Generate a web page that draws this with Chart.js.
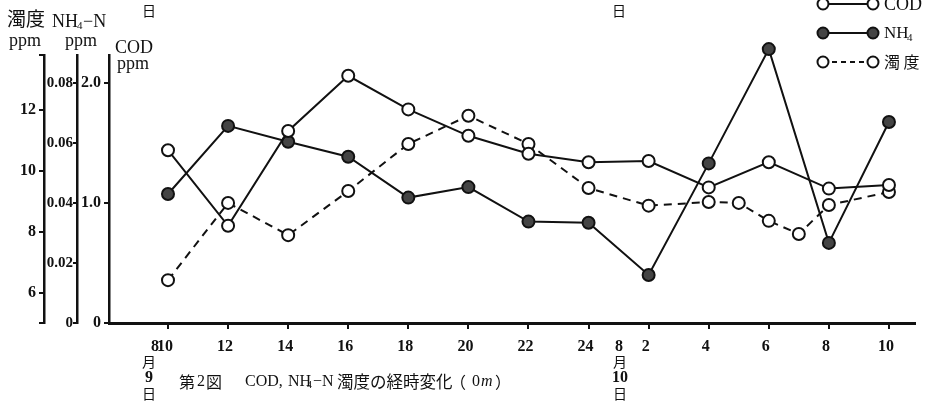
<!DOCTYPE html>
<html>
<head>
<meta charset="utf-8">
<script src="https://cdn.jsdelivr.net/npm/chart.js@4.4.1/dist/chart.umd.min.js"></script>
<style>
  html, body { margin: 0; padding: 0; background: #fff; }
  #wrap { width: 937px; height: 409px; }
</style>
</head>
<body>
<div id="wrap"><canvas id="chart" width="937" height="409"></canvas></div>
<script>
// hours counted from 10:00 on 9 Aug
var hours = [0, 2, 4, 6, 8, 10, 12, 14, 16, 18, 20, 22, 24];
var hourLabels = ['10', '12', '14', '16', '18', '20', '22', '24', '2', '4', '6', '8', '10'];

var codValues = [1.44, 0.81, 1.60, 2.06, 1.78, 1.56, 1.41, 1.34, 1.35, 1.13, 1.34, 1.12, 1.15];
var nh4Values = [0.043, 0.0657, 0.0604, 0.0554, 0.0418, 0.0453, 0.0338, 0.0334, 0.016, 0.0532, 0.0913, 0.0267, 0.067];

// turbidity was also read at 5, 6 and 7 o'clock
var turbHours = [0, 2, 4, 6, 8, 10, 12, 14, 16, 18, 19, 20, 21, 22, 24];
var turbValues = [6.41, 8.95, 7.89, 9.34, 10.89, 11.82, 10.89, 9.44, 8.86, 8.98, 8.95, 8.36, 7.93, 8.88, 9.31];

var turbTicks = [6, 8, 10, 12];
var nh4Ticks = [0, 0.02, 0.04, 0.06, 0.08];
var nh4TickLabels = ['0', '0.02', '0.04', '0.06', '0.08'];
var codTicks = [0, 1, 2];
var codTickLabels = ['0', '1.0', '2.0'];

var ink = '#111';
var serif = "'Liberation Serif', 'Noto Sans CJK JP', serif";
var cjk = "'Noto Sans CJK JP', sans-serif";

function toPoints(xs, ys) {
    var pts = [];
    for (var i = 0; i < xs.length; i++) {
        pts.push({ x: xs[i], y: ys[i] });
    }
    return pts;
}

function setTicks(list) {
    return function(scale) {
        scale.ticks = list.map(function(v) { return { value: v }; });
    };
}

// Axis titles, dates, caption and the hand drawn legend
var paperText = {
    id: 'paperText',
    afterDraw: function(chart) {
        var ctx = chart.ctx;
        ctx.save();
        ctx.fillStyle = ink;

        function txt(s, x, y, size, family, align, base, style) {
            ctx.font = (style || '') + ' ' + size + 'px ' + family;
            ctx.textAlign = align || 'left';
            ctx.textBaseline = base || 'middle';
            ctx.fillText(s, x, y);
        }

        // axis titles
        txt('濁度', 7, 19, 19, cjk);
        txt('NH', 52, 27, 18, serif, 'left', 'alphabetic');
        txt('4', 77, 29, 11, serif, 'left', 'alphabetic');
        txt('−N', 83, 27, 18, serif, 'left', 'alphabetic');
        txt('ppm', 9, 46, 18, serif, 'left', 'alphabetic');
        txt('ppm', 65, 46, 18, serif, 'left', 'alphabetic');
        txt('COD', 115, 53, 18, serif, 'left', 'alphabetic');
        txt('ppm', 117, 69, 18, serif, 'left', 'alphabetic');

        // date columns
        txt('日', 149, 11, 14, cjk, 'center');
        txt('日', 619, 11, 14, cjk, 'center');
        txt('8', 155, 347, 16, serif, 'center', 'middle', 'bold');
        txt('月', 149, 362, 14, cjk, 'center');
        txt('9', 149, 378, 16, serif, 'center', 'middle', 'bold');
        txt('日', 149, 394, 14, cjk, 'center');
        txt('8', 619, 347, 16, serif, 'center', 'middle', 'bold');
        txt('月', 620, 362, 14, cjk, 'center');
        txt('10', 620, 378, 16, serif, 'center', 'middle', 'bold');
        txt('日', 620, 394, 14, cjk, 'center');

        // caption
        var cy = 382;
        txt('第', 179, cy, 16, cjk);
        txt('2', 197, cy, 16, serif);
        txt('図', 206, cy, 16, cjk);
        txt('COD,', 245, cy, 16, serif);
        txt('NH', 288, cy, 16, serif);
        txt('4', 307, cy + 3, 10, serif);
        txt('−N', 313, cy, 16, serif);
        txt('濁度の経時変化', 337, cy, 16.5, cjk);
        txt('（', 450, cy, 16, cjk);
        txt('0', 472, cy, 16, serif);
        txt('m', 481, cy, 16, serif, 'left', 'middle', 'italic');
        txt('）', 495, cy, 16, cjk);

        // legend
        var rows = [
            { y: 4, fill: '#fff', dash: [] },
            { y: 33, fill: '#444', dash: [] },
            { y: 62, fill: '#fff', dash: [5, 4] }
        ];
        ctx.strokeStyle = ink;
        ctx.lineWidth = 2;
        rows.forEach(function(r) {
            ctx.setLineDash(r.dash);
            ctx.beginPath();
            ctx.moveTo(823, r.y);
            ctx.lineTo(873, r.y);
            ctx.stroke();
            ctx.setLineDash([]);
            [823, 873].forEach(function(cx) {
                ctx.beginPath();
                ctx.arc(cx, r.y, 5.5, 0, Math.PI * 2);
                ctx.fillStyle = r.fill;
                ctx.fill();
                ctx.stroke();
            });
        });
        ctx.fillStyle = ink;
        txt('COD', 884, 5, 18, serif);
        txt('NH', 884, 34, 17, serif);
        txt('4', 907, 38, 11, serif);
        txt('濁 度', 884, 62, 16, cjk);
        ctx.restore();
    }
};

var yAxisBase = function(weight, width, min, max, ticks, labels, size, tickLen, pad) {
    return {
        type: 'linear',
        position: 'left',
        weight: weight,
        min: min,
        max: max,
        border: { display: true, color: ink, width: 2.5 },
        grid: { drawOnChartArea: false, drawTicks: true, tickLength: tickLen, color: ink, lineWidth: 2 },
        ticks: {
            color: ink,
            padding: pad,
            font: { family: serif, size: size, weight: 'bold' },
            callback: function(v) {
                var i = ticks.indexOf(v);
                return i < 0 ? '' : labels[i];
            }
        },
        afterBuildTicks: setTicks(ticks.indexOf(min) < 0 ? [min].concat(ticks, [max]) : ticks),
        afterFit: function(scale) { scale.width = width; }
    };
};

var ctx = document.getElementById('chart').getContext('2d');

var chartData = {
    datasets: [
        {
            label: 'COD',
            yAxisID: 'cod',
            data: toPoints(hours, codValues),
            borderColor: ink,
            borderWidth: 2,
            pointRadius: 6,
            pointBorderWidth: 2,
            pointBackgroundColor: '#fff',
            pointBorderColor: ink,
            clip: false,
            tension: 0
        }, {
            label: 'NH4',
            yAxisID: 'nh4',
            data: toPoints(hours, nh4Values),
            borderColor: ink,
            borderWidth: 2,
            pointRadius: 6,
            pointBorderWidth: 2,
            pointBackgroundColor: '#444',
            pointBorderColor: ink,
            clip: false,
            tension: 0
        }, {
            label: '濁度',
            yAxisID: 'turb',
            data: toPoints(turbHours, turbValues),
            borderColor: ink,
            borderWidth: 2,
            borderDash: [8, 6],
            pointRadius: 6,
            pointBorderWidth: 2,
            pointBackgroundColor: '#fff',
            pointBorderColor: ink,
            clip: false,
            tension: 0
        }]
};

var chartConfig = {
    type: 'line',
    data: chartData,
    plugins: [paperText],
    options: {
        responsive: false,
        animation: false,
        devicePixelRatio: 1,
        layout: { padding: { top: 55, right: 22, left: 0, bottom: 0 } },
        plugins: {
            legend: { display: false },
            title: { display: false },
            tooltip: { enabled: false }
        },
        scales: {
            x: {
                type: 'linear',
                position: 'bottom',
                min: -1.964,
                max: 24.867,
                border: { display: true, color: ink, width: 3 },
                grid: { drawOnChartArea: false, drawTicks: true, tickLength: 6, color: ink, lineWidth: 2 },
                ticks: {
                    color: ink,
                    padding: 8,
                    labelOffset: -3,
                    autoSkip: false,
                    maxRotation: 0,
                    font: { family: serif, size: 16, weight: 'bold' },
                    callback: function(v, i) { return hourLabels[i]; }
                },
                afterBuildTicks: setTicks(hours),
                afterFit: function(scale) { scale.height = 86; }
            },
            turb: yAxisBase(3, 44, 5, 13.816, turbTicks, turbTicks.map(String), 16, 5, 3),
            nh4: yAxisBase(2, 33, 0, 0.08933, nh4Ticks, nh4TickLabels, 15, 4, 0),
            cod: yAxisBase(1, 32, 0, 2.2333, codTicks, codTickLabels, 16, 5, 3)
        }
    }
};

var mainChart = new Chart(ctx, chartConfig);
</script>
</body>
</html>
